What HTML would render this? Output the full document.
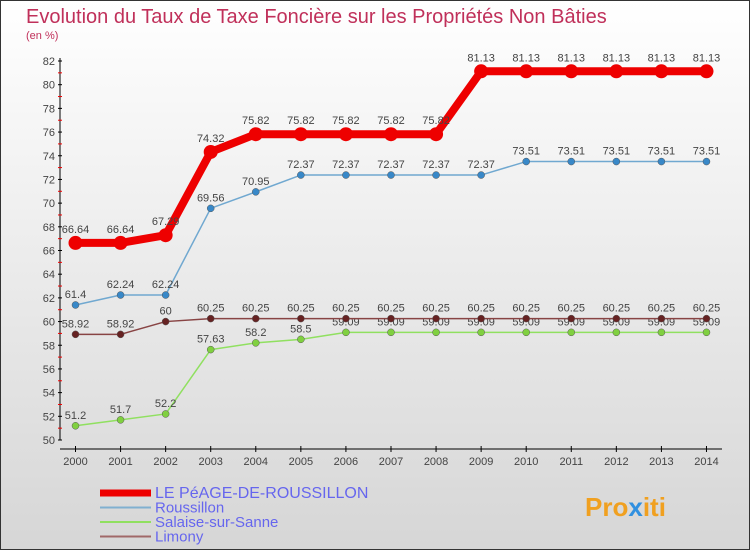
<!DOCTYPE html>
<html><head><meta charset="utf-8"><style>
body{margin:0;width:750px;height:550px;overflow:hidden;font-family:"Liberation Sans",sans-serif}
svg{display:block}
</style></head><body>
<svg id="c" width="750" height="550">
<defs><linearGradient id="bg" x1="0" y1="0" x2="0" y2="1"><stop offset="0" stop-color="#ffffff"/><stop offset="1" stop-color="#d6d6d6"/></linearGradient></defs>
<rect x="0.5" y="0.5" width="749" height="549" fill="url(#bg)" stroke="#333"/>
<text x="26" y="23" font-size="20" fill="#c0305a">Evolution du Taux de Taxe Foncière sur les Propriétés Non Bâties</text>
<text x="26" y="39" font-size="11" fill="#c0305a">(en %)</text>
<g id="axes"></g><g id="series"></g><g id="legend"></g>
<text x="585" y="516" font-size="26" font-weight="bold" fill="#f0a020">Pro<tspan fill="#3090e0">x</tspan>iti</text>
</svg>
<script>
const years=[2000,2001,2002,2003,2004,2005,2006,2007,2008,2009,2010,2011,2012,2013,2014];
const peage=[66.64,66.64,67.29,74.32,75.82,75.82,75.82,75.82,75.82,81.13,81.13,81.13,81.13,81.13,81.13];
const roussillon=[61.4,62.24,62.24,69.56,70.95,72.37,72.37,72.37,72.37,72.37,73.51,73.51,73.51,73.51,73.51];
const salaise=[51.2,51.7,52.2,57.63,58.2,58.5,59.09,59.09,59.09,59.09,59.09,59.09,59.09,59.09,59.09];
const limony=[58.92,58.92,60,60.25,60.25,60.25,60.25,60.25,60.25,60.25,60.25,60.25,60.25,60.25,60.25];
const yTicks=[50,52,54,56,58,60,62,64,66,68,70,72,74,76,78,80,82];
const NS="http://www.w3.org/2000/svg";
const x=i=>75.5+i*45.07;
const y=v=>440-(v-50)*(379/32);
function mk(t,a,p){const e=document.createElementNS(NS,t);for(const k in a)e.setAttribute(k,a[k]);p.appendChild(e);return e;}
const ax=document.getElementById('axes');
const yl=mk('line',{x1:60,y1:58,x2:60,y2:440,stroke:'#000'},ax);


const xl=mk('line',{x1:60,y1:449,x2:722,y2:449,stroke:'#000'},ax);


yTicks.forEach((v,k)=>{
  mk('line',{x1:58,x2:62,y1:y(v),y2:y(v),stroke:'#000'},ax);
  if(k<yTicks.length-1) mk('line',{x1:58,x2:62,y1:y(v+1),y2:y(v+1),stroke:'#e00'},ax);
  const t=mk('text',{x:55,y:y(v)+4,'font-size':11,'text-anchor':'end',fill:'#444'},ax);
  t.textContent=v;
  
  
});
years.forEach((yr,i)=>{
  mk('line',{x1:x(i),x2:x(i),y1:446,y2:452,stroke:'#000'},ax);
  const t=mk('text',{x:x(i),y:465,'font-size':11,'text-anchor':'middle',fill:'#444'},ax);
  t.textContent=yr;
  
  
});
const sg=document.getElementById('series');
function series(data,color,w,r,name,fill){
  const g=mk('g',{},sg);
  
  
  mk('polyline',{points:data.map((v,i)=>x(i)+','+y(v)).join(' '),fill:'none',stroke:color,'stroke-width':w,'stroke-linejoin':'round'},g);
  data.forEach((v,i)=>{
    const c=mk('circle',{cx:x(i),cy:y(v),r:r,fill:fill,stroke:r>5?'none':'#555','stroke-width':0.5},g);
    
    
    const t=mk('text',{x:x(i),y:y(v)-(r>5?10:7),'font-size':11,'text-anchor':'middle',fill:'#444'},g);
    t.textContent=v;
    
    
  });
}
series(salaise,'#90e060',1.5,3.5,'salaise','#80d040');
series(limony,'#884444',1.5,3.5,'limony','#662222');
series(roussillon,'#70a8d0',1.5,3.5,'roussillon','#3888c8');
series(peage,'#ee0000',8,7,'peage','#ee0000');
const lg=document.getElementById('legend');
[['LE PéAGE-DE-ROUSSILLON','#ee0000',7,16],['Roussillon','#80b0d0',2,15],['Salaise-sur-Sanne','#90e060',2,15],['Limony','#a06868',2,15]].forEach((e,i)=>{
  const yy=493+i*14.5;
  const g=mk('g',{},lg);
  
  
  mk('line',{x1:100,x2:151,y1:yy,y2:yy,stroke:e[1],'stroke-width':e[2]},g);
  const t=mk('text',{x:155,y:yy+5,'font-size':e[3],fill:'#6666ee'},g);
  t.textContent=e[0];
});
</script>
</body></html>
